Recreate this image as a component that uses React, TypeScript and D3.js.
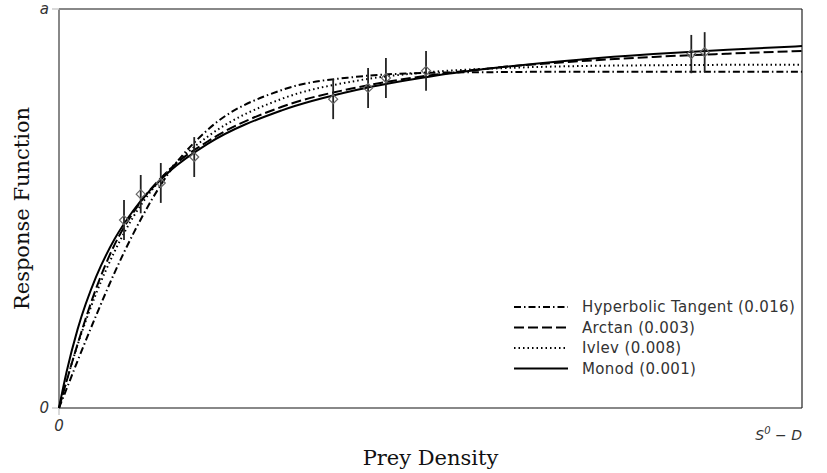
import React, { useRef, useEffect } from "react";
import * as d3 from "d3";

// model curves (x as fraction of S0 - D, y as fraction of a)
const curveX = [0, 0.01, 0.025, 0.05, 0.075, 0.1, 0.15, 0.2, 0.3, 0.4, 0.5, 0.6, 0.7, 0.8, 0.9, 1.0];
const tanhY = [0, 0.047, 0.118, 0.232, 0.34, 0.437, 0.595, 0.697, 0.797, 0.83, 0.84, 0.842, 0.843, 0.843, 0.843, 0.843];
const arctanY = [0, 0.066, 0.16, 0.3, 0.41, 0.49, 0.6, 0.668, 0.755, 0.803, 0.834, 0.855, 0.869, 0.88, 0.888, 0.895];
const ivlevY = [0, 0.067, 0.158, 0.287, 0.393, 0.479, 0.6, 0.68, 0.775, 0.82, 0.842, 0.852, 0.857, 0.859, 0.86, 0.86];
const monodY = [0, 0.089, 0.197, 0.329, 0.424, 0.495, 0.595, 0.662, 0.746, 0.797, 0.831, 0.855, 0.873, 0.887, 0.898, 0.907];

// observations with error bars
const obsX = [0.0875, 0.11, 0.137, 0.182, 0.369, 0.416, 0.44, 0.494, 0.851, 0.869];
const obsY = [0.471, 0.536, 0.564, 0.629, 0.774, 0.802, 0.827, 0.845, 0.887, 0.892];
const obsErr = [0.05, 0.048, 0.05, 0.05, 0.05, 0.05, 0.05, 0.05, 0.048, 0.05];

const seriesNames = ["Hyperbolic Tangent (0.016)", "Arctan (0.003)", "Ivlev (0.008)", "Monod (0.001)"];
const seriesDash = ["7,3,1.5,3", "10,4", "1.5,3", null];

function App() {
  const svgRef = useRef(null);

  useEffect(() => {
    const svg = d3.select(svgRef.current);
    svg.selectAll("*").remove();
    const left = 59, right = 802, top = 9, bottom = 408;

    const x = d3.scaleLinear().domain([0, 1]).range([left, right]);
    const y = d3.scaleLinear().domain([0, 1]).range([bottom, top]);

    // frame
    svg.append("line").attr("x1", left).attr("x2", right).attr("y1", top).attr("y2", top)
      .attr("stroke", "#888").attr("stroke-width", 2);
    svg.append("line").attr("x1", left).attr("x2", left).attr("y1", top).attr("y2", bottom)
      .attr("stroke", "#888").attr("stroke-width", 2);
    svg.append("line").attr("x1", left).attr("x2", right).attr("y1", bottom).attr("y2", bottom)
      .attr("stroke", "#888").attr("stroke-width", 2);
    svg.append("line").attr("x1", right).attr("x2", right).attr("y1", top).attr("y2", bottom)
      .attr("stroke", "#222").attr("stroke-width", 1.2);

    // ticks
    const tk = svg.append("g").attr("stroke", "#ccc").attr("stroke-width", 1.5);
    tk.append("line").attr("x1", left - 7).attr("x2", left).attr("y1", y(1)).attr("y2", y(1));
    tk.append("line").attr("x1", left - 7).attr("x2", left).attr("y1", y(0)).attr("y2", y(0));
    tk.append("line").attr("x1", x(0)).attr("x2", x(0)).attr("y1", bottom).attr("y2", bottom + 7);

    const lbl = svg.append("g").attr("font-family", "DejaVu Sans").attr("font-style", "italic")
      .attr("font-size", 15).attr("fill", "#333");
    lbl.append("text").attr("x", left - 10).attr("y", y(1)).attr("dy", "0.35em").attr("text-anchor", "end").text("a");
    lbl.append("text").attr("x", left - 10).attr("y", y(0)).attr("dy", "0.35em").attr("text-anchor", "end").text("0");
    lbl.append("text").attr("x", x(0)).attr("y", bottom + 23).attr("text-anchor", "middle").text("0");
    const sl = lbl.append("text").attr("x", right).attr("y", bottom + 32).attr("text-anchor", "end")
      .attr("font-size", 14);
    sl.append("tspan").text("S");
    sl.append("tspan").attr("dy", -6).attr("font-size", 10).text("0");
    sl.append("tspan").attr("dy", 6).text(" \u2212 D");

    // axis titles
    svg.append("text").attr("x", (left + right) / 2).attr("y", 465).attr("text-anchor", "middle")
      .attr("font-family", "DejaVu Serif").attr("font-size", 21).attr("fill", "#111").text("Prey Density");
    svg.append("text").attr("transform", `translate(29,${(top + bottom) / 2}) rotate(-90)`)
      .attr("text-anchor", "middle").attr("font-family", "DejaVu Serif").attr("font-size", 21)
      .attr("fill", "#111").text("Response Function");

    // curves
    const line = d3.line<[number, number]>().x((d) => x(d[0])).y((d) => y(d[1])).curve(d3.curveMonotoneX);
    const allY = [tanhY, arctanY, ivlevY, monodY];
    allY.forEach((ys, i) => {
      const p = svg.append("path").attr("d", line(curveX.map((cx, j) => [cx, ys[j]])))
        .attr("fill", "none").attr("stroke", "#000").attr("stroke-width", 2);
      if (seriesDash[i]) p.attr("stroke-dasharray", seriesDash[i]);
    });

    // observations
    const g = svg.append("g");
    obsX.forEach((ox, i) => {
      g.append("line").attr("x1", x(ox)).attr("x2", x(ox))
        .attr("y1", y(obsY[i] - obsErr[i])).attr("y2", y(obsY[i] + obsErr[i]))
        .attr("stroke", "#222").attr("stroke-width", 1.8);
      const cx = x(ox), cy = y(obsY[i]), r = 4.5;
      g.append("path").attr("d", `M${cx},${cy - r}L${cx + r},${cy}L${cx},${cy + r}L${cx - r},${cy}Z`)
        .attr("fill", "none").attr("stroke", "#666").attr("stroke-width", 1.2);
    });

    // legend
    const lg = svg.append("g").attr("font-family", "DejaVu Sans").attr("font-size", 15)
      .attr("letter-spacing", 0.35).attr("fill", "#333");
    seriesNames.forEach((name, i) => {
      const ly = 307 + i * 20.5;
      const l = lg.append("line").attr("x1", 514).attr("x2", 568).attr("y1", ly).attr("y2", ly)
        .attr("stroke", "#000").attr("stroke-width", 2);
      if (seriesDash[i]) l.attr("stroke-dasharray", seriesDash[i]);
      lg.append("text").attr("x", 582).attr("y", ly).attr("dy", "0.35em").text(name);
    });
  }, []);

  return (
    <svg ref={svgRef} width={827} height={473}
      style={{ position: "absolute", left: 0, top: 0, background: "#fff" }}></svg>
  );
}

export default App;
